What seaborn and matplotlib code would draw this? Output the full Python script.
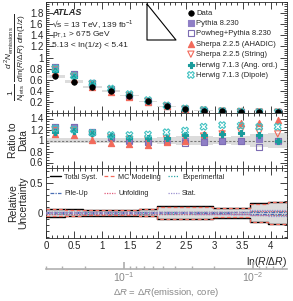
import numpy as np
import pandas as pd
import matplotlib
matplotlib.use("Agg")
import matplotlib.pyplot as plt
import seaborn as sns
from matplotlib.ticker import FuncFormatter, MultipleLocator, LogLocator, NullFormatter, FixedLocator

sns.set_theme(style="ticks")
plt.rcParams['font.family'] = ['Liberation Sans', 'DejaVu Sans']
plt.rcParams['mathtext.fontset'] = 'custom'
plt.rcParams['mathtext.rm'] = 'Liberation Sans'
plt.rcParams['mathtext.it'] = 'Liberation Sans:italic'
plt.rcParams['mathtext.bf'] = 'Liberation Sans:bold'

# ---------------- data ----------------
bin_edges = [0.0, 0.33, 0.66, 0.99, 1.32, 1.65, 1.98, 2.31, 2.64, 2.97, 3.30, 3.63, 3.96, 4.29]
data_vals = [0.66, 0.56, 0.47, 0.40, 0.31, 0.21, 0.12, 0.07, 0.045, 0.03, 0.022, 0.016, 0.012]
data_rel_unc = [0.05, 0.05, 0.04, 0.04, 0.04, 0.05, 0.07, 0.08, 0.08, 0.07, 0.08, 0.12, 0.13]

ratio_pythia   = [1.25, 1.24, 1.16, 1.06, 1.00, 0.99, 1.00, 1.00, 1.00, 1.00, 1.00, 1.03, 1.00]
ratio_powheg   = [1.25, 1.25, 1.15, 1.07, 1.01, 0.98, 0.99, 0.95, 0.98, 0.99, 0.99, 0.88, 1.00]
ratio_sherpa_a = [1.11, 1.10, 1.01, 0.95, 0.93, 0.92, 0.98, 1.00, 1.12, 1.15, 1.32, 1.32, 1.38]
ratio_sherpa_s = [1.18, 1.18, 1.10, 1.05, 1.02, 1.00, 1.03, 1.05, 1.08, 1.12, 1.17, 1.15, 1.12]
ratio_herwig_a = [1.15, 1.17, 1.13, 1.08, 1.05, 1.04, 1.05, 1.10, 1.10, 1.12, 1.13, 1.10, 1.00]
ratio_herwig_d = [1.22, 1.20, 1.14, 1.10, 1.10, 1.11, 1.15, 1.18, 1.25, 1.28, 1.27, 1.25, 1.25]

unc_total   = [0.065, 0.06, 0.045, 0.045, 0.045, 0.06, 0.11, 0.11, 0.11, 0.08, 0.08, 0.16, 0.19]
unc_mc      = [0.06, 0.055, 0.04, 0.04, 0.04, 0.06, 0.105, 0.105, 0.105, 0.075, 0.075, 0.15, 0.18]
unc_exp     = [0.02, 0.02, 0.02, 0.02, 0.02, 0.02, 0.02, 0.02, 0.02, 0.02, 0.02, 0.03, 0.03]
unc_pileup  = [0.01, 0.01, 0.01, 0.01, 0.01, 0.01, 0.01, 0.01, 0.01, 0.01, 0.015, 0.02, 0.02]
unc_unfold  = [0.015, 0.015, 0.015, 0.015, 0.015, 0.015, 0.015, 0.015, 0.015, 0.015, 0.02, 0.03, 0.03]
unc_stat    = [0.01, 0.01, 0.01, 0.01, 0.01, 0.01, 0.01, 0.01, 0.015, 0.015, 0.02, 0.04, 0.05]

mc_names = ["Pythia 8.230", "Powheg+Pythia 8.230", "Sherpa 2.2.5 (AHADIC)",
            "Sherpa 2.2.5 (String)", "Herwig 7.1.3 (Ang. ord.)", "Herwig 7.1.3 (Dipole)"]
mc_ratios = [ratio_pythia, ratio_powheg, ratio_sherpa_a, ratio_sherpa_s, ratio_herwig_a, ratio_herwig_d]

edges = np.array(bin_edges)
centers = 0.5 * (edges[:-1] + edges[1:])
widths = np.diff(edges)
data = np.array(data_vals)
drel = np.array(data_rel_unc)

styles = {
    "Pythia 8.230": dict(marker="s", fc="#8f7fc6", ec="#8f7fc6", size=18),
    "Powheg+Pythia 8.230": dict(marker="s", fc="none", ec="#7d6db3", size=18),
    "Sherpa 2.2.5 (AHADIC)": dict(marker="^", fc="#f26a5b", ec="#f26a5b", size=20),
    "Sherpa 2.2.5 (String)": dict(marker="v", fc="none", ec="#f26a5b", size=20),
    "Herwig 7.1.3 (Ang. ord.)": dict(marker="P", fc="#1a9c9c", ec="#1a9c9c", size=24),
    "Herwig 7.1.3 (Dipole)": dict(marker="X", fc="none", ec="#3fc1c1", size=24),
}

W, H = 293, 301
fig = plt.figure(figsize=(W / 100, H / 100), dpi=100)
x0, x1 = 46 / W, 287 / W
def yf(p):
    return 1 - p / H
ax1 = fig.add_axes([x0, yf(113), x1 - x0, yf(2) - yf(113)])
ax2 = fig.add_axes([x0, yf(168), x1 - x0, yf(113) - yf(168)])
ax3 = fig.add_axes([x0, yf(238), x1 - x0, yf(168) - yf(238)])
ax4 = fig.add_axes([x0, yf(269), x1 - x0, 0.0001])

fs = 7
fmt = FuncFormatter(lambda v, p: "%g" % round(v, 3))
for ax in (ax1, ax2, ax3):
    ax.set_xlim(0, 4.29)
    ax.tick_params(which="both", direction="in", top=True, right=True, labelsize=fs,
                   width=0.6, color="#222222", pad=2)
    ax.tick_params(which="major", length=5)
    ax.tick_params(which="minor", length=2.5)
    ax.xaxis.set_major_locator(MultipleLocator(0.5))
    ax.xaxis.set_minor_locator(MultipleLocator(0.1))
    for s in ax.spines.values():
        s.set_linewidth(0.6)
    ax.set_facecolor("white")
ax1.tick_params(labelbottom=False)
ax2.tick_params(labelbottom=False)

# ---- main panel ----
ax1.set_ylim(0, 2.0)
ax1.yaxis.set_major_locator(FixedLocator([0.2, 0.4, 0.6, 0.8, 1.0, 1.2, 1.4, 1.6, 1.8]))
ax1.yaxis.set_minor_locator(MultipleLocator(0.04))
ax1.yaxis.set_major_formatter(fmt)
for c, w, d, r in zip(centers, widths, data, drel):
    ax1.add_patch(plt.Rectangle((c - w / 2, d * (1 - r)), w, 2 * d * r, color="#dcdcdc", lw=0, zorder=1))

for name, rat in zip(mc_names, mc_ratios):
    st = styles[name]
    yv = data * np.array(rat)
    df = pd.DataFrame({"x": centers, "y": yv})
    ax1.errorbar(centers, yv, yerr=0.01 * yv, fmt="none", ecolor=st["ec"], elinewidth=0.6, zorder=2)
    sns.scatterplot(data=df, x="x", y="y", ax=ax1, marker=st["marker"], s=st["size"],
                    facecolor=st["fc"], edgecolor=st["ec"], linewidth=0.8, zorder=3, label=name)
dfd = pd.DataFrame({"x": centers, "y": data})
sns.scatterplot(data=dfd, x="x", y="y", ax=ax1, marker="o", s=16, color="black",
                edgecolor="black", linewidth=0.5, zorder=5, label="Data")
ax1.set_xlabel("")
ax1.set_ylabel(r"$\frac{1}{N_{\rm jets}}\ \frac{d^2N_{\rm emissions}}{d\ln(R/\Delta R)\ d\ln(1/z)}$",
               fontsize=8.5, labelpad=2)
ax1.yaxis.set_label_coords(-0.075, 0.5)

handles, labels = ax1.get_legend_handles_labels()
order = [labels.index("Data")] + [labels.index(n) for n in mc_names]
ax1.legend([handles[i] for i in order], [labels[i] for i in order], loc="upper left",
           bbox_to_anchor=(0.59, 0.935), frameon=False, fontsize=5.5, handlelength=0.7,
           handletextpad=0.35, labelspacing=0.4, borderaxespad=0.0, borderpad=0.0)

ax1.text(0.025, 0.905, "ATLAS", transform=ax1.transAxes, fontsize=6.5, fontweight="bold",
         fontstyle="italic", va="center")
ax1.text(0.025, 0.80, "\u221as = 13 TeV, 139 fb$^{-1}$", transform=ax1.transAxes, fontsize=6, va="center")
ax1.text(0.025, 0.705, r"p$_{\rm T,1}$ > 675 GeV", transform=ax1.transAxes, fontsize=6, va="center")
ax1.text(0.025, 0.61, "5.13 < ln(1/z) < 5.41", transform=ax1.transAxes, fontsize=6, va="center")

# Lund-plane icon
tx0, tx1 = (147 - 46) / 241, (176 - 46) / 241
ty0, ty1 = (113 - 40) / 111, (113 - 4) / 111
ax1.plot([tx0, tx0, tx1, tx0], [ty1, ty0, ty0, ty1], transform=ax1.transAxes, color="black", lw=0.8)

# ---- ratio panel ----
ax2.set_ylim(0.5, 1.5)
ax2.yaxis.set_major_locator(FixedLocator([0.6, 0.8, 1.0, 1.2, 1.4]))
ax2.yaxis.set_minor_locator(MultipleLocator(0.05))
ax2.yaxis.set_major_formatter(fmt)
for c, w, r in zip(centers, widths, drel):
    ax2.add_patch(plt.Rectangle((c - w / 2, 1 - r), w, 2 * r, color="#dcdcdc", lw=0, zorder=1))
ax2.axhline(1.0, color="#777777", ls=(0, (2, 1.5)), lw=0.8, zorder=2)
for name, rat in zip(mc_names, mc_ratios):
    st = styles[name]
    df = pd.DataFrame({"x": centers, "y": rat})
    sns.scatterplot(data=df, x="x", y="y", ax=ax2, marker=st["marker"], s=st["size"],
                    facecolor=st["fc"], edgecolor=st["ec"], linewidth=0.8, zorder=3)
ax2.set_xlabel("")
ax2.set_ylabel("Ratio to\nData", fontsize=7.5, linespacing=1.0)
ax2.yaxis.set_label_coords(-0.075, 0.5)

# ---- uncertainty panel ----
ax3.set_ylim(-0.42, 0.75)
ax3.yaxis.set_major_locator(FixedLocator([0.0, 0.5]))
ax3.yaxis.set_minor_locator(MultipleLocator(0.1))
ax3.yaxis.set_major_formatter(fmt)
def step(vals, sign=1):
    v = sign * np.array(vals)
    return np.append(v, v[-1])
tot = np.array(unc_total)
ax3.fill_between(edges, step(tot, -1), step(tot), step="post", color="#dcdcdc", lw=0, zorder=1)
comp = [
    (unc_total, "Total Syst.", dict(color="black", ls="-", lw=1.0)),
    (unc_mc, "MC Modeling", dict(color="#f26a5b", ls=(0, (3, 2)), lw=0.9)),
    (unc_exp, "Experimental", dict(color="#2aa6a6", ls=(0, (1, 1.2)), lw=0.9)),
    (unc_pileup, "Pile-Up", dict(color="#4a6fb5", ls=(0, (3, 1, 1, 1)), lw=0.9)),
    (unc_unfold, "Unfolding", dict(color="#e05a7a", ls=(0, (1, 1)), lw=0.9)),
    (unc_stat, "Stat.", dict(color="#9a90d0", ls=(0, (1, 1)), lw=0.9)),
]
lh = {}
for vals, lab, kw in comp:
    l, = ax3.step(edges, step(vals), where="post", zorder=3, **kw)
    ax3.step(edges, step(vals, -1), where="post", zorder=3, **kw)
    lh[lab] = l
leg_order = ["Total Syst.", "Pile-Up", "MC Modeling", "Unfolding", "Experimental", "Stat."]
ax3.legend([lh[k] for k in leg_order], leg_order, loc="upper left", ncol=3, frameon=False,
           fontsize=5.2, handlelength=1.6, handletextpad=0.4, columnspacing=0.9, labelspacing=1.3,
           bbox_to_anchor=(0.015, 0.92), borderaxespad=0.0, borderpad=0.0)
ax3.xaxis.set_major_formatter(fmt)
ax3.set_xlabel(r"ln($R/\Delta R$)", fontsize=7.5, loc="right", labelpad=3)
ax3.set_ylabel("Relative\nUncertainty", fontsize=7.5, linespacing=1.0)
ax3.yaxis.set_label_coords(-0.075, 0.5)

# ---- secondary Delta R axis ----
ax4.set_xscale("log")
ax4.set_xlim(0.4, 0.4 * np.exp(-4.29))
for k in ("top", "left", "right"):
    ax4.spines[k].set_visible(False)
ax4.spines["bottom"].set_color("#b0b0b0")
ax4.spines["bottom"].set_linewidth(1.2)
ax4.set_yticks([])
ax4.xaxis.set_major_locator(LogLocator(base=10))
ax4.xaxis.set_minor_locator(LogLocator(base=10, subs=np.arange(2, 10)))
ax4.xaxis.set_minor_formatter(NullFormatter())
ax4.tick_params(axis="x", which="both", direction="in", color="#b0b0b0", labelcolor="#888888",
                labelsize=7.5, pad=1)
ax4.tick_params(axis="x", which="major", length=5)
ax4.tick_params(axis="x", which="minor", length=2.5)
ax4.set_xlabel(r"$\Delta R$ = $\Delta R$(emission, core)", fontsize=6.8, color="#888888", labelpad=1)
ax4.set_facecolor("none")

fig.savefig("out.png", dpi=100)
